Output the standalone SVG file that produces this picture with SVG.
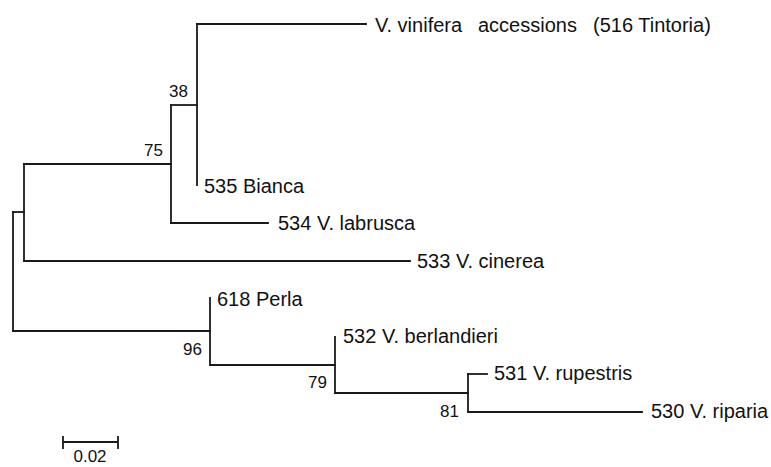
<svg xmlns="http://www.w3.org/2000/svg" width="771" height="467" viewBox="0 0 771 467">
<style>
.br{fill:none;stroke:#1a1a1a;stroke-width:1.8;stroke-linecap:square}
.tip{font-family:"Liberation Sans",Arial,sans-serif;font-size:20px;fill:#111}
.bs{font-family:"Liberation Sans",Arial,sans-serif;font-size:17px;fill:#111}
</style>
<rect width="771" height="467" fill="#fff"/>
<g id="connectors">
<path class="br" d="M13,212 V331"/>
<path class="br" d="M13,212 H24"/>
<path class="br" d="M24,164 V261"/>
<path class="br" d="M24,164 H171"/>
<path class="br" d="M24,261 H410"/>
<path class="br" d="M171,105 V223"/>
<path class="br" d="M171,105 H197"/>
<path class="br" d="M171,223 H268"/>
<path class="br" d="M197,24 V185"/>
<path class="br" d="M197,24 H366"/>
<path class="br" d="M13,331 H210"/>
<path class="br" d="M210,298 V365"/>
<path class="br" d="M210,365 H335"/>
<path class="br" d="M335,337 V393"/>
<path class="br" d="M335,393 H468"/>
<path class="br" d="M468,374 V412"/>
<path class="br" d="M468,374 H487"/>
<path class="br" d="M468,412 H642"/>
</g>
<g id="n-vinifera"><text class="tip" y="32"><tspan x="375">V. vinifera</tspan><tspan x="478">accessions</tspan><tspan x="593">(516 Tintoria)</tspan></text></g>
<g id="n-bianca"><text class="tip" x="204" y="193">535 Bianca</text></g>
<g id="n-labrusca"><text class="tip" x="278" y="230">534 V. labrusca</text></g>
<g id="n-cinerea"><text class="tip" x="417" y="268">533 V. cinerea</text></g>
<g id="n-perla"><text class="tip" x="217" y="306">618 Perla</text></g>
<g id="n-berlandieri"><text class="tip" x="343" y="343">532 V. berlandieri</text></g>
<g id="n-rupestris"><text class="tip" x="494" y="380">531 V. rupestris</text></g>
<g id="n-riparia"><text class="tip" x="651" y="418">530 V. riparia</text></g>
<g id="bootstrap">
<text class="bs" x="188" y="97" text-anchor="end">38</text>
<text class="bs" x="163" y="156" text-anchor="end">75</text>
<text class="bs" x="202" y="355" text-anchor="end">96</text>
<text class="bs" x="327" y="388" text-anchor="end">79</text>
<text class="bs" x="459" y="417" text-anchor="end">81</text>
</g>
<g id="scalebar">
<path class="br" d="M63,442 H118 M63,437 V448 M118,437 V448"/>
<text class="bs" x="90" y="462" text-anchor="middle">0.02</text>
</g>
</svg>
